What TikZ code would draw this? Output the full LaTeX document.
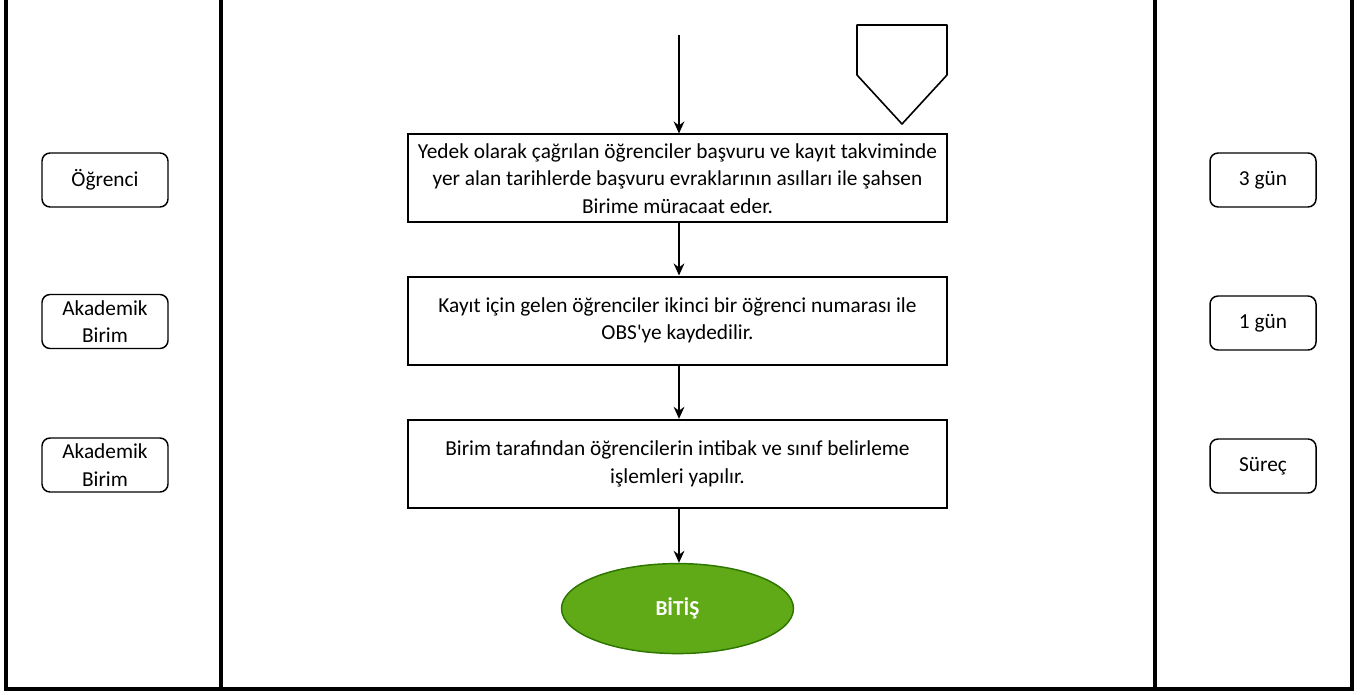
\documentclass[tikz,border=0pt]{standalone}
\usepackage{fontspec}
\setmainfont{Carlito}
\usepackage{xcolor}
\usetikzlibrary{positioning,shapes.geometric,arrows.meta}
\definecolor{bitisyesil}{HTML}{60A917}
\definecolor{bitiskenar}{HTML}{2D7600}
\newcommand{\yazi}{\fontsize{16}{20.5}\selectfont}
\tikzstyle{adim}=[rectangle, draw=black, line width=1.5pt, fill=white,
        minimum width=404pt, minimum height=66pt, align=center, inner sep=0pt]
\tikzstyle{etiket}=[rectangle, draw=black, line width=1.1pt, rounded corners=6pt,
        minimum width=94.5pt, minimum height=40.5pt, align=center, inner sep=0pt]
\tikzstyle{sure}=[rectangle, draw=black, line width=1.1pt, rounded corners=6pt,
        minimum width=79.5pt, minimum height=40.5pt, align=center, inner sep=0pt]
\tikzstyle{bitis}=[ellipse, draw=bitiskenar, line width=1.1pt, fill=bitisyesil,
        minimum width=174pt, minimum height=67.5pt, text=white, font=\yazi\bfseries]
\tikzstyle{ok}=[line width=1.5pt, -{Stealth[length=9pt,width=8pt]}]

\begin{document}
\begin{tikzpicture}[x=0.75pt, y=-0.75pt, node distance=40.5pt,
        every node/.style={font=\yazi}]
        \useasboundingbox (0,0) rectangle (1369,695);
        % seritler
        \draw[line width=2.4pt] (6,0) -- (6,689) -- (1352,689) -- (1352,0);
        \draw[line width=2.4pt] (221,0) -- (221,689);
        \draw[line width=2.4pt] (1155,0) -- (1155,689);
        % sayfa disi baglayici
        \draw[line width=1.2pt, line join=round] (857,25) -- (947,25) -- (947,75) -- (902,124) -- (857,75) -- cycle;
        \coordinate (giris) at (679,35);
        \node (basvuru) [adim] at (677.5,178.5)
        {
          Yedek olarak çağrılan öğrenciler başvuru ve kayıt takviminde\\
          yer alan tarihlerde başvuru evraklarının asılları ile şahsen\\
          Birime müracaat eder.
        };
        \node (kayit) [adim, below=39pt of basvuru]
        {
          Kayıt için gelen öğrenciler ikinci bir öğrenci numarası ile\\
          OBS\textquotesingle ye kaydedilir.
        };
        \node (intibak) [adim, below=40pt of kayit]
        {
          Birim tarafından öğrencilerin intibak ve sınıf belirleme\\
          işlemleri yapılır.
        };
        \node (son) [bitis, below=of intibak] {BİTİŞ};
        % sol sutun
        \node (ogrenci) [etiket] at (105,180) {Öğrenci};
        \node (birim1) [etiket] at (105,321.5) {Akademik\\Birim};
        \node (birim2) [etiket] at (105,465) {Akademik\\Birim};
        % sag sutun
        \node (gun3) [sure] at (1263,180) {3 gün};
        \node (gun1) [sure] at (1263,323) {1 gün};
        \node (surec) [sure] at (1263,466) {Süreç};
        % oklar
        \draw[ok] (giris) -- (basvuru.north -| giris);
        \draw[ok] (basvuru.south -| giris) -- (kayit.north -| giris);
        \draw[ok] (kayit.south -| giris) -- (intibak.north -| giris);
        \draw[ok] (intibak.south -| giris) -- (son.north -| giris);
\end{tikzpicture}
\end{document}
